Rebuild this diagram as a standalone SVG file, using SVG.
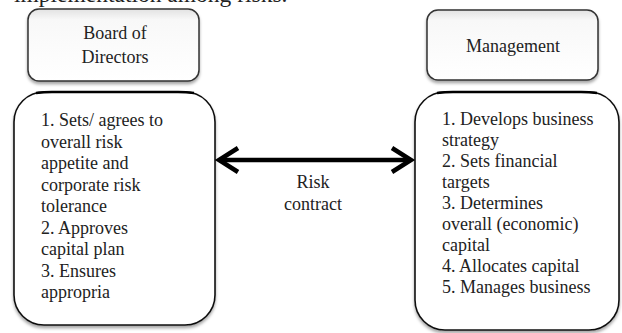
<svg xmlns="http://www.w3.org/2000/svg" width="622" height="333" viewBox="0 0 622 333">
<defs>
<linearGradient id="hg" x1="0" y1="0" x2="0" y2="1">
<stop offset="0" stop-color="#e2e2e2"/>
<stop offset="0.15" stop-color="#f8f8f8"/>
<stop offset="1" stop-color="#ffffff"/>
</linearGradient>
<filter id="sh" x="-10%" y="-10%" width="120%" height="125%">
<feDropShadow dx="0" dy="2.5" stdDeviation="1.5" flood-color="#000" flood-opacity="0.35"/>
</filter>
</defs>
<style>
text{font-family:"Liberation Serif","Times New Roman",serif;fill:#222}
.hdr{fill:url(#hg);stroke:#333;stroke-width:1.5}
.body{fill:#fff;stroke:#111;stroke-width:1.6}
.top{fill:none;stroke:#000;stroke-width:2.5}
.t{font-size:18px}
.c{text-anchor:middle}
.arr{fill:none;stroke:#000;stroke-width:4.5;stroke-linecap:butt;stroke-linejoin:miter}
</style>
<rect width="622" height="333" fill="#fff"/>
<text x="14" y="2" font-size="23.5" fill="#111">implementation among risks.</text>

<g id="board">
<rect class="hdr" x="28" y="9" width="171" height="72" rx="11" filter="url(#sh)"/>
<text class="t c" x="115" y="39">Board of</text>
<text class="t c" x="115" y="63">Directors</text>
</g>

<g id="management">
<rect class="hdr" x="427" y="10" width="171" height="70" rx="11" filter="url(#sh)"/>
<text class="t c" x="513" y="52">Management</text>
</g>

<g id="board-duties">
<rect class="body" x="14" y="92" width="201" height="233" rx="30" filter="url(#sh)"/>
<path class="top" d="M36,93 Q44,92 52,92 L178,92 Q186,92 194,93"/>
<text class="t" x="41">
<tspan x="41" y="126">1. Sets/ agrees to</tspan>
<tspan x="41" y="147.5">overall risk</tspan>
<tspan x="41" y="169">appetite and</tspan>
<tspan x="41" y="190.5">corporate risk</tspan>
<tspan x="41" y="212">tolerance</tspan>
<tspan x="41" y="233.5">2. Approves</tspan>
<tspan x="41" y="255">capital plan</tspan>
<tspan x="41" y="276.5">3. Ensures</tspan>
<tspan x="41" y="298">appropria</tspan>
</text>
</g>

<g id="management-duties">
<rect class="body" x="415" y="92" width="204" height="238" rx="30" filter="url(#sh)"/>
<path class="top" d="M437,93 Q445,92 453,92 L581,92 Q589,92 597,93"/>
<text class="t" x="442">
<tspan x="442" y="125">1. Develops business</tspan>
<tspan x="442" y="146">strategy</tspan>
<tspan x="442" y="167">2. Sets financial</tspan>
<tspan x="442" y="188">targets</tspan>
<tspan x="442" y="209">3. Determines</tspan>
<tspan x="442" y="230">overall (economic)</tspan>
<tspan x="442" y="251">capital</tspan>
<tspan x="442" y="272">4. Allocates capital</tspan>
<tspan x="442" y="293">5. Manages business</tspan>
</text>
</g>

<g id="connectors">
<line class="arr" x1="219" y1="160" x2="411" y2="160"/>
<polyline class="arr" points="238,148 219,160 238,172"/>
<polyline class="arr" points="392,148 411,160 392,172"/>
<text class="t c" x="313" y="188">Risk</text>
<text class="t c" x="313" y="210">contract</text>
</g>
</svg>
